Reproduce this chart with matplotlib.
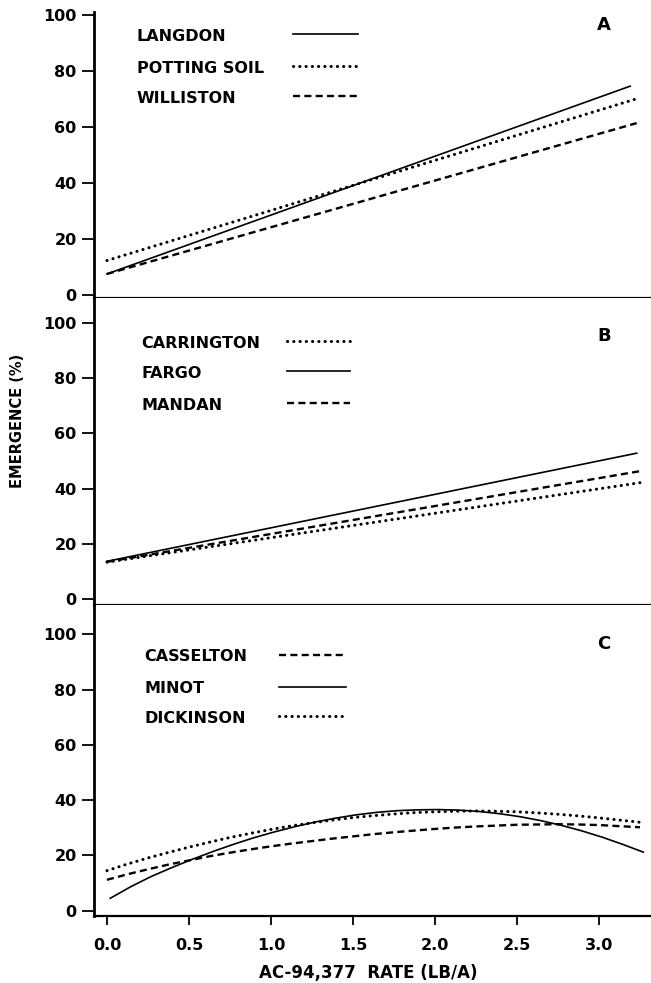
import matplotlib.pyplot as plt

### Data

# Panel A: straight fitted lines (end points)
langdon_x = [0.0, 3.19]
langdon_y = [7.5, 74.6]
potting_x = [0.0, 3.23]
potting_y = [12.3, 70.1]
williston_x = [0.0, 3.23]
williston_y = [7.5, 61.4]

# Panel B: straight fitted lines (end points)
carrington_x = [0.0, 3.27]
carrington_y = [13.4, 42.3]
fargo_x = [0.0, 3.23]
fargo_y = [13.7, 52.8]
mandan_x = [0.0, 3.25]
mandan_y = [13.5, 46.3]

# Panel C: curved responses, read every 0.125 lb/A
rate_c = [0.0, 0.125, 0.25, 0.375, 0.5, 0.625, 0.75, 0.875, 1.0, 1.125, 1.25, 1.375,
          1.5, 1.625, 1.75, 1.875, 2.0, 2.125, 2.25, 2.375, 2.5, 2.625, 2.75, 2.875,
          3.0, 3.125, 3.25]
casselton_y = [11.2, 13.2, 15.0, 16.7, 18.2, 19.7, 21.0, 22.2, 23.3, 24.3, 25.2, 26.1,
               26.9, 27.7, 28.4, 29.0, 29.6, 30.1, 30.5, 30.8, 31.1, 31.2, 31.3, 31.2,
               31.0, 30.6, 30.2]
minot_y = [4.5, 8.7, 12.4, 15.6, 18.6, 21.4, 24.0, 26.4, 28.5, 30.4, 32.1, 33.5,
           34.7, 35.6, 36.2, 36.5, 36.6, 36.4, 35.9, 35.1, 34.0, 32.6, 30.9, 28.9,
           26.6, 24.0, 21.2]
dickinson_y = [14.5, 16.9, 19.1, 21.1, 23.0, 24.8, 26.5, 28.0, 29.4, 30.7, 31.8, 32.8,
               33.7, 34.4, 35.0, 35.5, 35.8, 36.0, 36.1, 36.0, 35.8, 35.4, 34.9, 34.3,
               33.6, 32.8, 32.0]

x_ticks = [0.0, 0.5, 1.0, 1.5, 2.0, 2.5, 3.0]
x_ticklabels = ['0.0', '0.5', '1.0', '1.5', '2.0', '2.5', '3.0']
y_ticks = [0, 20, 40, 60, 80, 100]

### Styles

FONT = 'DejaVu Sans'
SOLID = dict(color='black', lw=1.2, linestyle='-')
DOTTED = dict(color='black', lw=2.2, linestyle=(0, (0.05, 2.0)),
              dash_capstyle='round', solid_capstyle='round')
DASHED = dict(color='black', lw=1.7, linestyle=(0, (3.0, 1.8)), dash_capstyle='butt')

plt.rcParams['font.family'] = FONT
plt.rcParams['font.weight'] = 'bold'

W, H = 651, 983
fig = plt.figure(figsize=(W / 100, H / 100), dpi=100)


def add_panel(top_px, bottom_px, ylim):
    """Axes placed by pixel box (left spine at 94 px, right edge of figure)"""
    left_px, right_px = 94, 651
    ax = fig.add_axes([left_px / W, 1 - bottom_px / H,
                       (right_px - left_px) / W, (bottom_px - top_px) / H])
    ax.set_xlim(-0.079, 3.317)
    ax.set_ylim(*ylim)
    for side in ['top', 'right']:
        ax.spines[side].set_visible(False)
    ax.spines['left'].set_linewidth(2.0)
    ax.spines['bottom'].set_linewidth(1.6)
    ax.set_yticks(y_ticks)
    ax.set_yticklabels([str(v) for v in y_ticks], fontsize=11.5, fontweight='bold')
    ax.tick_params(axis='y', direction='out', length=9, width=1.3, pad=3.5)
    ax.set_xticks(x_ticks)
    ax.tick_params(axis='x', direction='out', length=6.5, width=1.3, pad=9)
    return ax


def add_key(ax, entries, x_text, x_line, ys):
    """Text labels with a line sample to their right"""
    for (label, style), y in zip(entries, ys):
        ax.text(x_text, y, label, fontsize=11.5, fontweight='bold',
                ha='left', va='center')
        ax.plot(x_line, [y + 0.8, y + 0.8], **style)


ax_a = add_panel(11.7, 298.3, (-1.2, 101.2))
ax_b = add_panel(298.3, 605.0, (-2.1, 108.8))
ax_c = add_panel(605.0, 916.0, (-1.9, 110.6))

# Panel A
ax_a.plot(langdon_x, langdon_y, **SOLID)
ax_a.plot(potting_x, potting_y, **DOTTED)
ax_a.plot(williston_x, williston_y, **DASHED)
add_key(ax_a, [('LANGDON', SOLID), ('POTTING SOIL', DOTTED), ('WILLISTON', DASHED)],
        0.183, [1.134, 1.53], [92.3, 81.0, 70.3])

# Panel B
ax_b.plot(carrington_x, carrington_y, **DOTTED)
ax_b.plot(fargo_x, fargo_y, **SOLID)
ax_b.plot(mandan_x, mandan_y, **DASHED)
add_key(ax_b, [('CARRINGTON', DOTTED), ('FARGO', SOLID), ('MANDAN', DASHED)],
        0.21, [1.096, 1.48], [92.6, 81.7, 70.2])

# Panel C
ax_c.plot([x + 0.02 for x in rate_c], minot_y, **SOLID)
ax_c.plot(rate_c, casselton_y, **DASHED)
ax_c.plot(rate_c, dickinson_y, **DOTTED)
add_key(ax_c, [('CASSELTON', DASHED), ('MINOT', SOLID), ('DICKINSON', DOTTED)],
        0.23, [1.05, 1.46], [91.8, 80.3, 69.5])

for ax, letter, y in [(ax_a, 'A', 96.4), (ax_b, 'B', 95.3), (ax_c, 'C', 96.4)]:
    ax.text(3.03, y, letter, fontsize=13, fontweight='bold', ha='center', va='center')

ax_a.set_xticklabels([])
ax_b.set_xticklabels([])
ax_c.set_xticklabels(x_ticklabels, fontsize=11.5, fontweight='bold')

fig.text(368 / W, 1 - 973 / H, 'AC-94,377  RATE (LB/A)', fontsize=12,
         fontweight='bold', ha='center', va='center')
fig.text(18 / W, 1 - 421 / H, 'EMERGENCE (%)', fontsize=10.5, fontweight='bold',
         rotation=90, ha='center', va='center')

fig.savefig('out.png', dpi=100)
